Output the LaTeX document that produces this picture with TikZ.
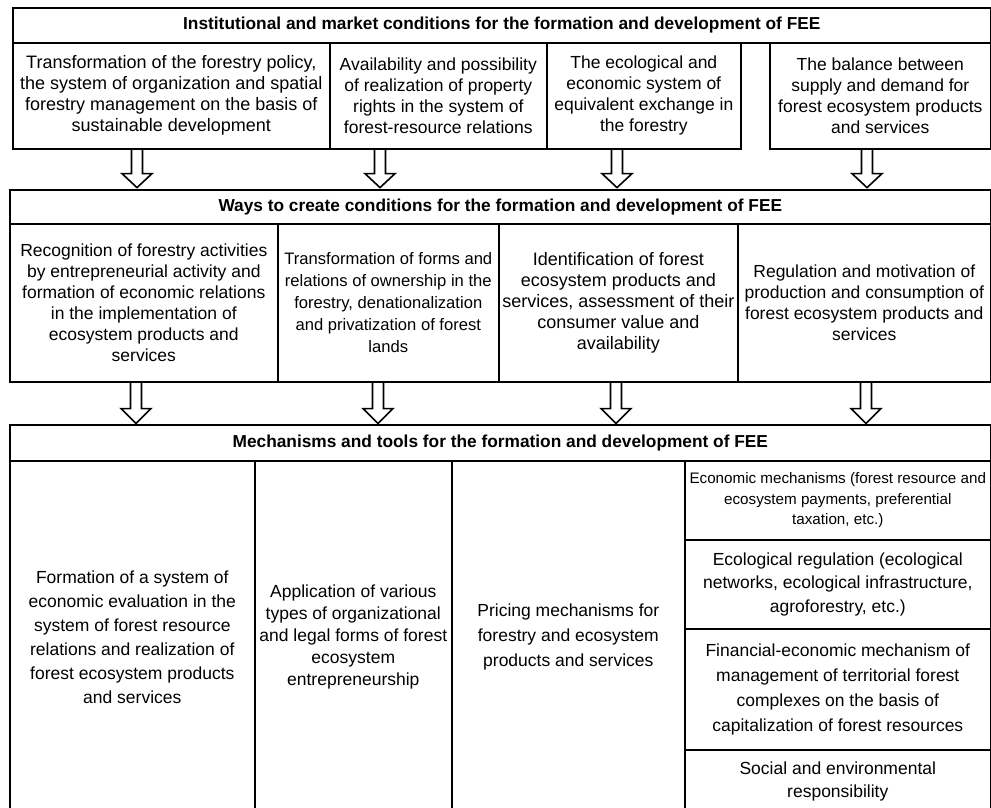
\documentclass[tikz,border=0pt]{standalone}
\usepackage{fontspec}
\setmainfont{Liberation Sans}
\tikzset{
  cell/.style={draw, line width=1.6pt, inner sep=0pt, anchor=north west,
    align=center, font=\fontsize{17.5}{21}\selectfont},
  head/.style={cell, font=\fontsize{17.3}{21}\selectfont\bfseries},
  tall/.style={font=\fontsize{17.5}{24}\selectfont},
  small/.style={font=\fontsize{15.2}{20.7}\selectfont},
  hollow/.style={line width=1.6pt}}

\begin{document}
\begin{tikzpicture}[x=1pt,y=-1pt]
\useasboundingbox (0,0) rectangle (991,807);

  % conditions
\node[head, minimum width=978pt, minimum height=35pt] (c0) at (12,7)
  {Institutional and market conditions for the formation and development of FEE};
\node[cell, font=\fontsize{18}{21}\selectfont, minimum width=317pt, minimum height=106pt] (c1) at (12,42)
  {Transformation of the forestry policy,\\ the system of organization and spatial\\
   forestry management on the basis of\\ sustainable development};
\node[cell, minimum width=217pt, minimum height=106pt] (c2) at (329,42)
  {Availability and possibility\\ of realization of property\\ rights in the system of\\
   forest-resource relations};
\node[cell, minimum width=194pt, minimum height=106pt] (c3) at (546,42)
  {The ecological and\\ economic system of\\ equivalent exchange in\\ the forestry};
\node[cell, minimum width=221pt, minimum height=106pt] (c4) at (769,42)
  {The balance between\\ supply and demand for\\ forest ecosystem products\\ and services};

  % ways
\node[head, minimum width=981pt, minimum height=34pt] (w0) at (9,189)
  {Ways to create conditions for the formation and development of FEE};
\node[cell, minimum width=268pt, minimum height=158pt] (w1) at (9,223)
  {Recognition of forestry activities\\ by entrepreneurial activity and\\
   formation of economic relations\\ in the implementation of\\
   ecosystem products and\\ services};
\node[cell, font=\fontsize{16.6}{22}\selectfont, minimum width=221pt, minimum height=158pt] (w2) at (277,223)
  {Transformation of forms and\\ relations of ownership in the\\
   forestry, denationalization\\ and privatization of forest\\ lands};
\node[cell, font=\fontsize{18}{21}\selectfont, minimum width=239pt, minimum height=158pt] (w3) at (498,223)
  {Identification of forest\\ ecosystem products and\\
   services, assessment of their\\ consumer value and\\ availability};
\node[cell, minimum width=253pt, minimum height=158pt] (w4) at (737,223)
  {Regulation and motivation of\\ production and consumption of\\
   forest ecosystem products and\\ services};

  % mechanisms
\node[head, minimum width=981pt, minimum height=36pt] (m0) at (9,424)
  {Mechanisms and tools for the formation and development of FEE};
\node[cell, tall, minimum width=245pt, minimum height=352pt] (m1) at (9,460)
  {Formation of a system of\\ economic evaluation in the\\ system of forest resource\\
   relations and realization of\\ forest ecosystem products\\ and services};
\node[cell, font=\fontsize{17.5}{22}\selectfont, minimum width=197pt, minimum height=352pt] (m2) at (254,460)
  {Application of various\\ types of organizational\\ and legal forms of forest\\
   ecosystem\\ entrepreneurship};
\node[cell, font=\fontsize{17.5}{25}\selectfont, minimum width=233pt, minimum height=352pt] (m3) at (451,460)
  {Pricing mechanisms for\\ forestry and ecosystem\\ products and services};
\node[cell, small, minimum width=306pt, minimum height=79pt] (m4) at (684,460)
  {Economic mechanisms (forest resource and\\ ecosystem payments, preferential\\ taxation, etc.)};
\node[cell, font=\fontsize{17.5}{23.3}\selectfont, minimum width=306pt, minimum height=89pt] (m5) at (684,539)
  {Ecological regulation (ecological\\ networks, ecological infrastructure,\\ agroforestry, etc.)};
\node[cell, font=\fontsize{17.5}{25}\selectfont, minimum width=306pt, minimum height=121pt] (m6) at (684,628)
  {Financial-economic mechanism of\\ management of territorial forest\\
   complexes on the basis of\\ capitalization of forest resources};
\node[cell, font=\fontsize{17.5}{23}\selectfont, minimum width=306pt, minimum height=63pt] (m7) at (684,749)
  {Social and environmental\\ responsibility};

  % arrows
\foreach \x/\n in {137/1,380/2,617/3,867/4}
{
  \coordinate (p\n) at (\x,0);
  \draw[hollow] (c\n.south -| p\n) ++(-5.5,0) -- ++(0,24) -- ++(-9.5,0)
    -- ++(15,14) -- ++(15,-14) -- ++(-9.5,0) -- ++(0,-24);
}
\foreach \x/\n in {136/1,378/2,616/3,866/4}
{
  \coordinate (q\n) at (\x,0);
  \draw[hollow] (w\n.south -| q\n) ++(-5.5,0) -- ++(0,26) -- ++(-9.5,0)
    -- ++(15,15) -- ++(15,-15) -- ++(-9.5,0) -- ++(0,-26);
}
\end{tikzpicture}
\end{document}
